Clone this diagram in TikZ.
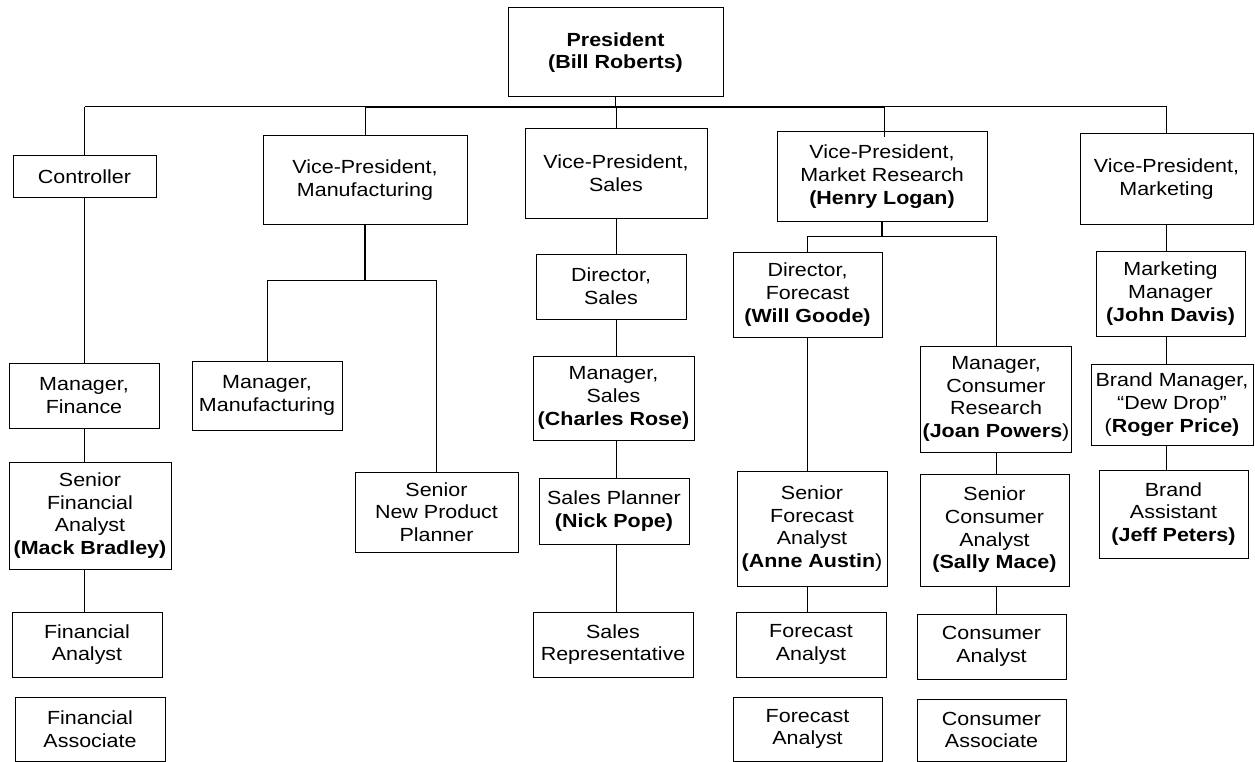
\documentclass[tikz,border=0pt]{standalone}
\usepackage{fontspec}
\setmainfont{Liberation Sans}[FakeStretch=1.13]
\usepackage{tikz}
\usetikzlibrary{positioning, calc}

\begin{document}
\begin{tikzpicture}[x=1pt, y=-1pt,
  box/.style={rectangle, draw=black, line width=1pt, align=center, inner sep=2pt,
    font=\fontsize{19}{22.7}\selectfont},
  link/.style={draw=black, line width=1pt},
  bus/.style={draw=black, line width=2pt}]
  \useasboundingbox (0,0) rectangle (1255,762);
\node[box, minimum width=215pt, minimum height=89pt] (president) at (615.5,52.5) {\textbf{President}\\\textbf{(Bill Roberts)}};
\node[box, minimum width=143pt, minimum height=42pt] (controller) at (84.5,177) {Controller};
\node[box, minimum width=204pt, minimum height=88pt] (vp_mfg) at (365,180) {Vice-President,\\Manufacturing};
\node[box, minimum width=182pt, minimum height=89pt] (vp_sales) at (616,173.5) {Vice-President,\\Sales};
\node[box, minimum width=210pt, minimum height=89pt] (vp_research) at (882,176.5) {Vice-President,\\Market Research\\\textbf{(Henry Logan)}};
\node[box, minimum width=173pt, minimum height=90pt] (vp_marketing) at (1166.5,179) {Vice-President,\\Marketing};
\node[box, minimum width=150pt, minimum height=65pt] (mgr_finance) at (84,395.5) {Manager,\\Finance};
\node[box, minimum width=162pt, minimum height=107pt] (sr_fin_analyst) at (90,515.5) {Senior\\Financial\\Analyst\\\textbf{(Mack Bradley)}};
\node[box, minimum width=150pt, minimum height=65pt] (fin_analyst) at (87,644.5) {Financial\\Analyst};
\node[box, minimum width=150pt, minimum height=64pt] (fin_associate) at (90,729) {Financial\\Associate};
\node[box, minimum width=150pt, minimum height=69pt] (mgr_mfg) at (267,395.5) {Manager,\\Manufacturing};
\node[box, minimum width=163pt, minimum height=80pt] (sr_planner) at (436.5,512) {Senior\\New Product\\Planner};
\node[box, minimum width=150pt, minimum height=65pt] (dir_sales) at (611,286.5) {Director,\\Sales};
\node[box, minimum width=161pt, minimum height=84pt] (mgr_sales) at (613.5,398) {Manager,\\Sales\\\textbf{(Charles Rose)}};
\node[box, minimum width=150pt, minimum height=66pt] (sales_planner) at (614,511) {Sales Planner\\\textbf{(Nick Pope)}};
\node[box, minimum width=160pt, minimum height=65pt] (sales_rep) at (613,644.5) {Sales\\Representative};
\node[box, minimum width=149pt, minimum height=85pt] (dir_forecast) at (807.5,294.5) {Director,\\Forecast\\\textbf{(Will Goode)}};
\node[box, minimum width=150pt, minimum height=115pt] (sr_fc_analyst) at (812,528.5) {Senior\\Forecast\\Analyst\\\textbf{(Anne Austin})};
\node[box, minimum width=150pt, minimum height=65pt] (fc_analyst_a) at (811,644.5) {Forecast\\Analyst};
\node[box, minimum width=149pt, minimum height=64pt] (fc_analyst_b) at (807.5,729) {Forecast\\Analyst};
\node[box, minimum width=150pt, minimum height=106pt] (mgr_consumer) at (996,399) {Manager,\\Consumer\\Research\\\textbf{(Joan Powers})};
\node[box, minimum width=149pt, minimum height=112pt] (sr_con_analyst) at (994.5,530) {Senior\\Consumer\\Analyst\\\textbf{(Sally Mace)}};
\node[box, minimum width=149pt, minimum height=65pt] (con_analyst) at (991.5,646.5) {Consumer\\Analyst};
\node[box, minimum width=149pt, minimum height=62pt] (con_associate) at (991.5,730) {Consumer\\Associate};
\node[box, minimum width=149pt, minimum height=85pt] (mkt_mgr) at (1170.5,293.5) {Marketing\\Manager\\\textbf{(John Davis)}};
\node[box, minimum width=162pt, minimum height=81pt] (brand_mgr) at (1172,404.5) {Brand Manager,\\“Dew Drop”\\(\textbf{Roger Price)}};
\node[box, minimum width=149pt, minimum height=88pt] (brand_asst) at (1173.5,514) {Brand\\Assistant\\\textbf{(Jeff Peters)}};
\coordinate (top_bus) at (0,107);
\coordinate (mfg_bus) at (0,280);
\coordinate (research_bus) at (0,236);
\draw[link] (controller.north |- top_bus) -- (vp_marketing.north |- top_bus);
\draw[bus] (vp_mfg.north |- top_bus) -- (884,107);
\draw[link] (president.south) -- (president.south |- top_bus);
\foreach \n in {controller, vp_mfg, vp_sales, vp_marketing}
  \draw[link] (\n.north |- top_bus) -- (\n.north);
\draw[link] (884,107) -- (884,137);
\draw[bus] (vp_mfg.south) -- (vp_mfg.south |- mfg_bus);
\draw[link] (mgr_mfg.north) |- (sr_planner.north |- mfg_bus) -- (sr_planner.north);
\draw[bus] (vp_research.south) -- (vp_research.south |- research_bus);
\draw[link] (dir_forecast.north) |- (mgr_consumer.north |- research_bus) -- (mgr_consumer.north);
\foreach \a/\b in {controller/mgr_finance, mgr_finance/sr_fin_analyst, sr_fin_analyst/fin_analyst}
  \draw[link] (controller.south |- \a.south) -- (controller.south |- \b.north);
\foreach \a/\b in {vp_sales/dir_sales, dir_sales/mgr_sales, mgr_sales/sales_planner, sales_planner/sales_rep}
  \draw[link] (vp_sales.south |- \a.south) -- (vp_sales.south |- \b.north);
\foreach \a/\b in {dir_forecast/sr_fc_analyst, sr_fc_analyst/fc_analyst_a}
  \draw[link] (dir_forecast.south |- \a.south) -- (dir_forecast.south |- \b.north);
\foreach \a/\b in {mgr_consumer/sr_con_analyst, sr_con_analyst/con_analyst}
  \draw[link] (mgr_consumer.south |- \a.south) -- (mgr_consumer.south |- \b.north);
\foreach \a/\b in {vp_marketing/mkt_mgr, mkt_mgr/brand_mgr, brand_mgr/brand_asst}
  \draw[link] (vp_marketing.south |- \a.south) -- (vp_marketing.south |- \b.north);
\end{tikzpicture}
\end{document}
